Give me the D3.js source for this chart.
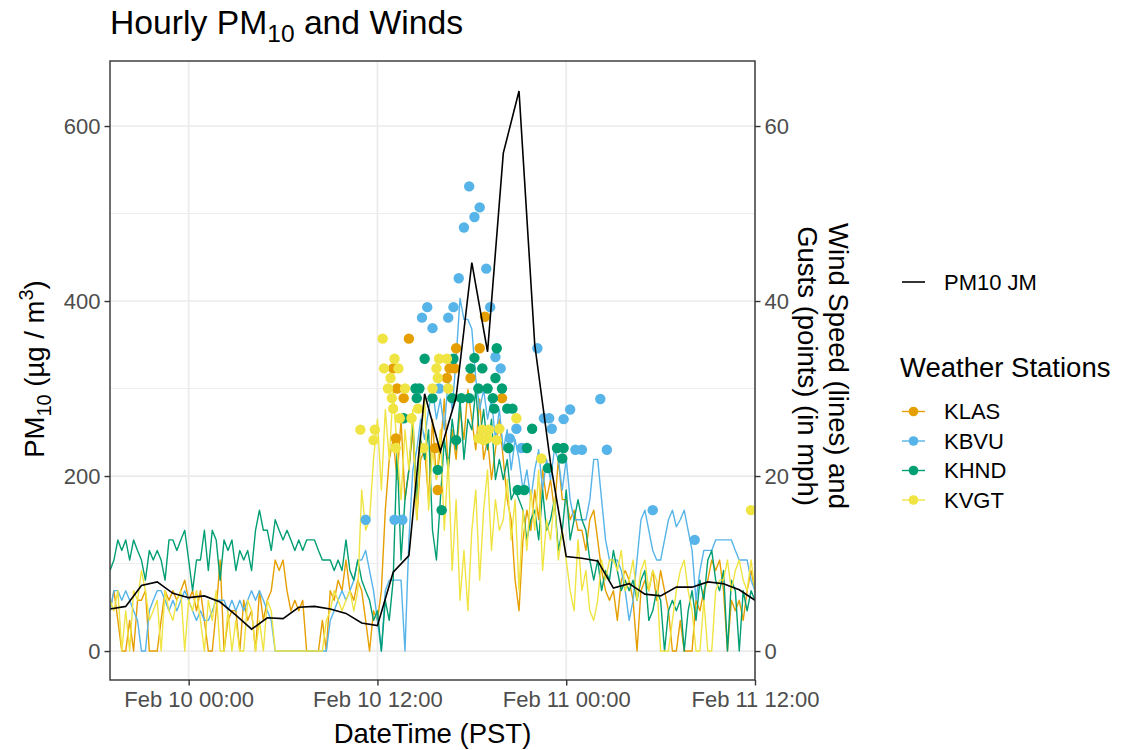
<!DOCTYPE html>
<html><head><meta charset="utf-8">
<script src="https://cdn.jsdelivr.net/npm/d3@7"></script>
<style>
body{margin:0;background:#fff}
svg{display:block}
text{font-family:"Liberation Sans",Arial,sans-serif}
</style>
</head><body>
<svg id="chart" width="1125" height="750"></svg>
<script>
// ---------------- DATA ----------------
const stations = ["KLAS", "KBVU", "KHND", "KVGT"];
const stationColors = ["#E69F00", "#56B4E9", "#009E73", "#F0E442"];

// Hourly PM10 at JM (µg/m3), starting 2021-02-09 19:00, every hour
const pmStart = "2021-02-09 19:00";
const pm10JM = [48, 51, 75, 79, 66, 61, 63, 56, 41, 25, 38, 37, 50, 51, 48, 43, 32, 29,
  90, 109, 294, 228, 290, 444, 342, 569, 640, 350, 215, 108, 106, 103, 72, 77, 65, 63,
  73, 73, 79, 77, 70, 58];

// Wind speed (mph), starting 2021-02-09 19:00, every 15 minutes
const windStart = "2021-02-09 19:00";
const windKLAS = [
  4.6, 6.9, 3.5, 0,   0, 3.5, 0, 5.8,   5.8, 6.9, 0, 0,   0, 3.5, 6.9, 5.8,
  6.9, 5.8, 6.9, 8.1,   5.8, 6.9, 4.6, 6.9,   3.5, 0, 0, 4.6,   10.4, 0, 3.5, 4.6,
  4.6, 0, 5.8, 3.5,   4.6, 0, 6.9, 3.5,   5.8, 6.9, 10.4, 9.2,   10.4, 6.9, 4.6, 5.8,
  4.6, 5.8, 0, 0,   0, 0, 3.5, 0,   6.9, 5.8, 8.1, 6.9,   10.4, 6.9, 5.8, 8.1,
  6.9, 3.5, 0, 4.6,   3.5, 6.9, 16.1, 21.9,   24.2, 19.6, 26.5, 17.3,   20.7, 25.3, 15.0, 21.9,
  23.0, 17.3, 26.5, 19.6,   23.0, 28.8, 20.7, 25.3,   21.9, 27.6, 24.2, 29.9,   26.5, 23.0, 28.8, 21.9,
  24.2, 19.6, 23.0, 26.5,   21.9, 17.3, 15.0, 8.1,   4.6, 12.7, 16.1, 13.8,   18.4, 15.0, 20.7, 17.3,
  19.6, 16.1, 21.9, 17.3,   17.3, 15.0, 16.1, 13.8,   13.8, 11.5, 15.0, 16.1,   12.7, 9.2, 6.9, 5.8,
  6.9, 3.5, 8.1, 9.2,   8.1, 5.8, 0, 6.9,   8.1, 6.9, 9.2, 5.8,   9.2, 6.9, 4.6, 0,
  0, 3.5, 0, 0,   0, 5.8, 4.6, 6.9,   8.1, 10.4, 9.2, 10.4,   6.9, 0, 5.8, 4.6,
  5.8, 3.5, 6.9, 9.2,   6.9];
const windKBVU = [
  4.6, 6.9, 6.9, 5.8,   6.9, 5.8, 4.6, 3.5,   0, 0, 4.6, 5.8,   6.9, 6.9, 5.8, 4.6,
  5.8, 4.6, 5.8, 6.9,   5.8, 4.6, 3.5, 4.6,   3.5, 3.5, 4.6, 5.8,   5.8, 5.8, 4.6, 5.8,
  4.6, 5.8, 4.6, 5.8,   6.9, 5.8, 6.9, 5.8,   4.6, 3.5, 0, 0,   0, 0, 0, 0,
  0, 0, 0, 0,   0, 0, 0, 0,   3.5, 4.6, 5.8, 6.9,   5.8, 6.9, 8.1, 10.4,
  10.4, 11.5, 9.2, 6.9,   3.5, 0, 6.9, 8.1,   8.1, 8.1, 8.1, 0,   12.7, 20.7, 23.0, 26.5,
  24.2, 27.6, 29.9, 26.5,   28.8, 25.3, 31.1, 27.6,   33.4, 40.3, 37.9, 37.9,   36.8, 31.1, 27.6, 29.9,
  26.5, 28.8, 24.2, 27.6,   23.0, 25.3, 20.7, 24.2,   21.9, 18.4, 20.7, 17.3,   20.7, 23.0, 18.4, 21.9,
  19.6, 23.0, 21.9, 18.4,   21.9, 17.3, 15.0, 15.0,   15.0, 15.0, 17.3, 21.9,   21.9, 17.3, 12.7, 10.4,
  10.4, 10.4, 9.2, 6.9,   3.5, 5.8, 10.4, 15.0,   16.1, 13.8, 11.5, 10.4,   10.4, 12.7, 15.0, 16.1,
  14.2, 15.0, 16.1, 13.8,   11.5, 5.8, 9.2, 11.5,   11.5, 11.5, 12.7, 12.7,   12.7, 12.7, 12.7, 11.5,
  10.4, 10.4, 10.4, 8.1,   6.9];
const windKHND = [
  9.2, 10.4, 12.7, 11.5,   12.7, 10.4, 12.7, 11.5,   10.4, 8.1, 11.5, 10.4,   11.5, 10.4, 8.1, 12.7,
  12.7, 11.5, 12.7, 13.8,   10.4, 6.9, 10.4, 10.4,   13.8, 9.2, 13.8, 12.7,   8.1, 12.7, 11.5, 12.7,
  9.2, 11.5, 10.4, 11.5,   9.2, 13.8, 16.1, 13.8,   13.8, 11.5, 15.0, 13.8,   12.7, 13.8, 12.7, 11.5,
  12.7, 11.5, 12.7, 12.7,   12.7, 11.5, 10.4, 10.4,   10.4, 9.2, 10.4, 9.2,   12.7, 9.2, 8.1, 10.4,
  8.1, 6.9, 5.8, 3.5,   4.6, 0, 5.8, 3.5,   8.1, 23.0, 10.4, 17.3,   20.7, 26.5, 17.3, 24.2,
  21.9, 25.3, 13.8, 10.4,   17.3, 24.2, 20.7, 26.5,   23.0, 28.8, 21.9, 26.5,   25.3, 29.9, 24.2, 27.6,
  23.0, 26.5, 19.6, 21.9,   19.6, 21.9, 17.3, 18.4,   17.3, 16.1, 12.7, 15.0,   16.1, 12.7, 18.4, 13.8,
  15.0, 17.3, 11.5, 13.8,   18.4, 12.7, 15.0, 17.3,   15.0, 13.8, 10.4, 8.1,   10.4, 6.9, 9.2, 8.1,
  11.5, 9.2, 6.9, 8.1,   6.9, 8.1, 5.8, 8.1,   9.2, 3.5, 4.6, 6.9,   5.8, 0, 4.6, 5.8,
  4.6, 5.8, 0, 4.6,   6.9, 3.5, 8.1, 5.8,   10.4, 11.5, 8.1, 6.9,   9.2, 0, 8.1, 6.9,
  0, 6.9, 4.6, 6.9,   5.8];
const windKVGT = [
  5.8, 4.6, 6.9, 0,   4.6, 0, 6.9, 5.8,   9.2, 6.9, 3.5, 4.6,   5.8, 0, 6.9, 4.6,
  3.5, 5.8, 6.9, 0,   5.8, 4.6, 6.9, 3.5,   0, 5.8, 3.5, 6.9,   0, 0, 4.6, 0,
  3.5, 0, 0, 5.8,   4.6, 0, 3.5, 0,   5.8, 4.6, 0, 0,   0, 0, 0, 0,
  0, 0, 0, 0,   0, 0, 0, 3.5,   4.6, 6.9, 5.8, 4.6,   5.8, 6.9, 4.6, 6.9,
  18.4, 13.8, 15.0, 21.9,   26.5, 18.4, 27.6, 21.9,   29.9, 23.0, 17.3, 25.3,   20.7, 27.6, 15.0, 24.2,
  28.8, 16.1, 23.0, 19.6,   25.3, 13.8, 21.9, 9.2,   17.3, 5.8, 11.5, 4.6,   13.8, 18.4, 8.1, 16.1,
  20.7, 11.5, 17.3, 13.8,   15.0, 19.6, 12.7, 17.3,   6.9, 16.1, 11.5, 18.4,   13.8, 20.7, 9.2, 15.0,
  12.7, 17.3, 10.4, 13.8,   10.4, 6.9, 4.6, 12.7,   6.9, 9.2, 4.6, 3.5,   5.8, 10.4, 8.1, 10.4,
  10.4, 9.2, 11.5, 6.9,   8.1, 10.4, 5.8, 9.2,   10.4, 6.9, 9.2, 8.1,   0, 0, 0, 3.5,
  6.9, 9.2, 10.4, 6.9,   4.6, 0, 0, 5.8,   0, 0, 6.9, 8.1,   8.1, 10.4, 6.9, 9.2,
  10.4, 8.1, 6.9, 10.4,   6.9];

// Gusts (mph): time (Feb 2021) and value
const gustKLAS_t = ["02-10 13:00","02-10 13:10","02-10 13:15","02-10 13:40","02-10 14:00","02-10 15:40",
  "02-10 15:50","02-10 16:25","02-10 16:35","02-10 16:55","02-10 17:00","02-10 17:55","02-10 18:30",
  "02-10 18:50","02-10 19:55"];
const gustKLAS_v = [32.3, 24.3, 30.0, 28.9, 35.7, 23.2, 18.4, 31.2, 32.3, 32.3, 34.6, 31.2, 34.6, 38.2, 28.9];

const gustKBVU_t = ["02-10 11:15","02-10 13:05","02-10 13:35","02-10 14:50","02-10 15:10","02-10 15:30",
  "02-10 15:55","02-10 16:30","02-10 16:50","02-10 17:10","02-10 17:30","02-10 17:50","02-10 18:10",
  "02-10 18:30","02-10 18:55","02-10 19:10","02-10 19:30","02-10 19:50","02-10 20:25","02-10 20:50",
  "02-10 21:10","02-10 22:10","02-10 22:35","02-10 22:55","02-10 23:05","02-10 23:50","02-11 00:15",
  "02-11 00:35","02-11 01:00","02-11 02:10","02-11 02:35","02-11 05:30","02-11 08:10"];
const gustKBVU_v = [15.0, 15.0, 15.0, 38.1, 39.3, 36.9, 30.0, 38.1, 39.3, 42.6, 48.4, 53.1, 49.6,
  50.7, 43.7, 39.3, 33.6, 32.3, 24.3, 25.4, 23.2, 34.6, 26.6, 26.6, 25.4, 26.5, 27.6, 23.0, 23.0,
  28.8, 23.0, 16.1, 12.7];

const gustKHND_t = ["02-10 13:40","02-10 14:25","02-10 14:30","02-10 14:40","02-10 15:00","02-10 15:30",
  "02-10 15:50","02-10 16:05","02-10 16:45","02-10 16:50","02-10 17:00","02-10 17:20","02-10 17:50",
  "02-10 17:55","02-10 18:10","02-10 18:25","02-10 18:40","02-10 19:00","02-10 19:20","02-10 19:25",
  "02-10 19:30","02-10 19:35","02-10 19:55","02-10 20:15","02-10 20:20","02-10 20:35","02-10 20:55",
  "02-10 21:20","02-10 21:30","02-10 21:50","02-10 22:50","02-10 23:25","02-10 23:45","02-10 23:50"];
const gustKHND_v = [26.6, 30.0, 28.9, 30.0, 33.4, 28.9, 20.7, 16.1, 28.9, 33.4, 24.1, 28.9, 28.9,
  32.3, 33.5, 30.0, 32.3, 30.0, 28.9, 27.7, 31.2, 34.6, 30.0, 27.7, 23.2, 27.7, 18.4, 18.4, 23.2,
  25.4, 20.9, 23.2, 22.0, 23.2];

const gustKVGT_t = ["02-10 10:55","02-10 11:45","02-10 11:50","02-10 12:20","02-10 12:25","02-10 12:40",
  "02-10 12:50","02-10 12:55","02-10 13:00","02-10 13:05","02-10 13:10","02-10 13:20","02-10 13:25",
  "02-10 13:45","02-10 14:10","02-10 14:35","02-10 14:55","02-10 15:30","02-10 15:45","02-10 15:50",
  "02-10 15:55","02-10 16:25","02-10 16:30","02-10 18:25","02-10 18:40","02-10 18:45","02-10 19:00",
  "02-10 19:05","02-10 19:35","02-10 19:45","02-10 20:50","02-10 22:25","02-11 11:45"];
const gustKVGT_v = [25.3, 24.1, 25.3, 35.7, 32.3, 30.0, 31.2, 28.9, 27.7, 33.4, 23.2, 32.3, 26.6,
  30.0, 26.6, 27.7, 23.2, 30.0, 32.3, 31.2, 33.4, 33.4, 30.0, 24.3, 25.3, 24.1, 24.3, 25.3, 24.1,
  25.4, 26.6, 22.0, 16.1];

const xTicks = ["2021-02-10 00:00", "2021-02-10 12:00", "2021-02-11 00:00", "2021-02-11 12:00"];
const xDomain = ["2021-02-09 19:00", "2021-02-11 12:00"];
const pmTicks = [0, 200, 400, 600];
const pmMinor = [100, 300, 500];
const windTicks = [0, 20, 40, 60];

// ---------------- CHART ----------------
const parse = d3.timeParse("%Y-%m-%d %H:%M");
const parseG = s => parse("2021-" + s);
const fmt = d3.timeFormat("%b %d %H:%M");

const svg = d3.select("#chart");
const L = 110, R = 755, T = 61, B = 680;

const x = d3.scaleTime().domain(xDomain.map(parse)).range([L, R]);
const y = d3.scaleLinear().domain([-33.1, 674.3]).range([B, T]);
const yW = d3.scaleLinear().domain([-3.31, 67.43]).range([B, T]);

const gridG = svg.append("g");
pmMinor.forEach(v => gridG.append("line").attr("x1", L).attr("x2", R)
  .attr("y1", y(v)).attr("y2", y(v)).attr("stroke", "#EBEBEB").attr("stroke-width", 0.9));
pmTicks.forEach(v => gridG.append("line").attr("x1", L).attr("x2", R)
  .attr("y1", y(v)).attr("y2", y(v)).attr("stroke", "#EBEBEB").attr("stroke-width", 1.7));
xTicks.map(parse).forEach(d => gridG.append("line").attr("x1", x(d)).attr("x2", x(d))
  .attr("y1", T).attr("y2", B).attr("stroke", "#EBEBEB").attr("stroke-width", 1.7));

const t0w = parse(windStart);
const windSeries = [windKLAS, windKBVU, windKHND, windKVGT];
const gustT = [gustKLAS_t, gustKBVU_t, gustKHND_t, gustKVGT_t];
const gustV = [gustKLAS_v, gustKBVU_v, gustKHND_v, gustKVGT_v];

svg.append("clipPath").attr("id", "clp").append("rect")
  .attr("x", L).attr("y", T).attr("width", R - L).attr("height", B - T);
const plotG = svg.append("g").attr("clip-path", "url(#clp)");

const wline = d3.line().x(d => x(d.t)).y(d => yW(d.v));
windSeries.forEach((arr, k) => {
  const data = arr.map((v, i) => ({ t: d3.timeMinute.offset(t0w, 15 * i), v }));
  plotG.append("path").datum(data).attr("d", wline).attr("fill", "none")
    .attr("stroke", stationColors[k]).attr("stroke-width", 1.4).attr("stroke-linejoin", "round");
});
gustT.forEach((ts, k) => {
  plotG.append("g").selectAll("circle").data(ts.map((s, i) => ({ t: parseG(s), v: gustV[k][i] })))
    .join("circle").attr("cx", d => x(d.t)).attr("cy", d => yW(d.v)).attr("r", 5.2)
    .attr("fill", stationColors[k]);
});

const t0p = parse(pmStart);
const pmData = pm10JM.map((v, i) => ({ t: d3.timeHour.offset(t0p, i), v }));
plotG.append("path").datum(pmData)
  .attr("d", d3.line().x(d => x(d.t)).y(d => y(d.v)))
  .attr("fill", "none").attr("stroke", "#000").attr("stroke-width", 1.6);

// panel border
svg.append("rect").attr("x", L).attr("y", T).attr("width", R - L).attr("height", B - T)
  .attr("fill", "none").attr("stroke", "#333333").attr("stroke-width", 1.4);

// axes
const styleAxis = g => {
  g.select(".domain").remove();
  g.selectAll(".tick line").attr("stroke", "#333333").attr("stroke-width", 1.4);
  g.selectAll(".tick text").attr("fill", "#4D4D4D").style("font-size", "22px")
    .style("font-family", '"Liberation Sans",Arial,sans-serif');
};
svg.append("g").attr("transform", `translate(0,${B})`)
  .call(d3.axisBottom(x).tickValues(xTicks.map(parse)).tickFormat(fmt).tickSize(5.5).tickPadding(6))
  .call(styleAxis);
svg.append("g").attr("transform", `translate(${L},0)`)
  .call(d3.axisLeft(y).tickValues(pmTicks).tickSize(5.5).tickPadding(4))
  .call(styleAxis);
svg.append("g").attr("transform", `translate(${R},0)`)
  .call(d3.axisRight(yW).tickValues(windTicks).tickSize(5.5).tickPadding(4))
  .call(styleAxis);

// titles
const title = svg.append("text").attr("x", L).attr("y", 34).style("font-size", "33.7px").attr("fill", "#000");
title.append("tspan").text("Hourly PM");
title.append("tspan").text("10").style("font-size", "24.5px").attr("dy", 8);
title.append("tspan").text(" and Winds").attr("dy", -8);

svg.append("text").attr("x", (L + R) / 2).attr("y", 743).attr("text-anchor", "middle")
  .style("font-size", "27.5px").text("DateTime (PST)");

const yl = svg.append("text").attr("transform", "translate(44,369) rotate(-90)")
  .attr("text-anchor", "middle").style("font-size", "27.5px");
yl.append("tspan").text("PM");
yl.append("tspan").text("10").style("font-size", "20px").attr("dy", 7);
yl.append("tspan").text(" (µg / m").attr("dy", -7);
yl.append("tspan").text("3").style("font-size", "20px").attr("dy", -11);
yl.append("tspan").text(")").attr("dy", 11);

const yr = svg.append("g").attr("transform", "translate(829,366) rotate(90)");
yr.append("text").attr("text-anchor", "middle").style("font-size", "27.5px").text("Wind Speed (lines) and");
yr.append("text").attr("text-anchor", "middle").attr("y", 31).style("font-size", "27.5px").text("Gusts (points) (in mph)");

// legend
svg.append("line").attr("x1", 902).attr("x2", 925).attr("y1", 282).attr("y2", 282)
  .attr("stroke", "#000").attr("stroke-width", 1.6);
svg.append("text").attr("x", 944).attr("y", 282).attr("dy", "0.35em").style("font-size", "22px").text("PM10 JM");

svg.append("text").attr("x", 900).attr("y", 377).style("font-size", "27.5px").text("Weather Stations");
const legY = d3.scalePoint().domain(stations).range([411.5, 500]);
stations.forEach((s, k) => {
  const g = svg.append("g").attr("transform", `translate(0,${legY(s)})`);
  g.append("line").attr("x1", 902).attr("x2", 925).attr("stroke", stationColors[k]).attr("stroke-width", 1.4);
  g.append("circle").attr("cx", 913.5).attr("r", 4.8).attr("fill", stationColors[k]);
  g.append("text").attr("x", 944).attr("dy", "0.35em").style("font-size", "22px").text(s);
});
</script>
</body></html>
